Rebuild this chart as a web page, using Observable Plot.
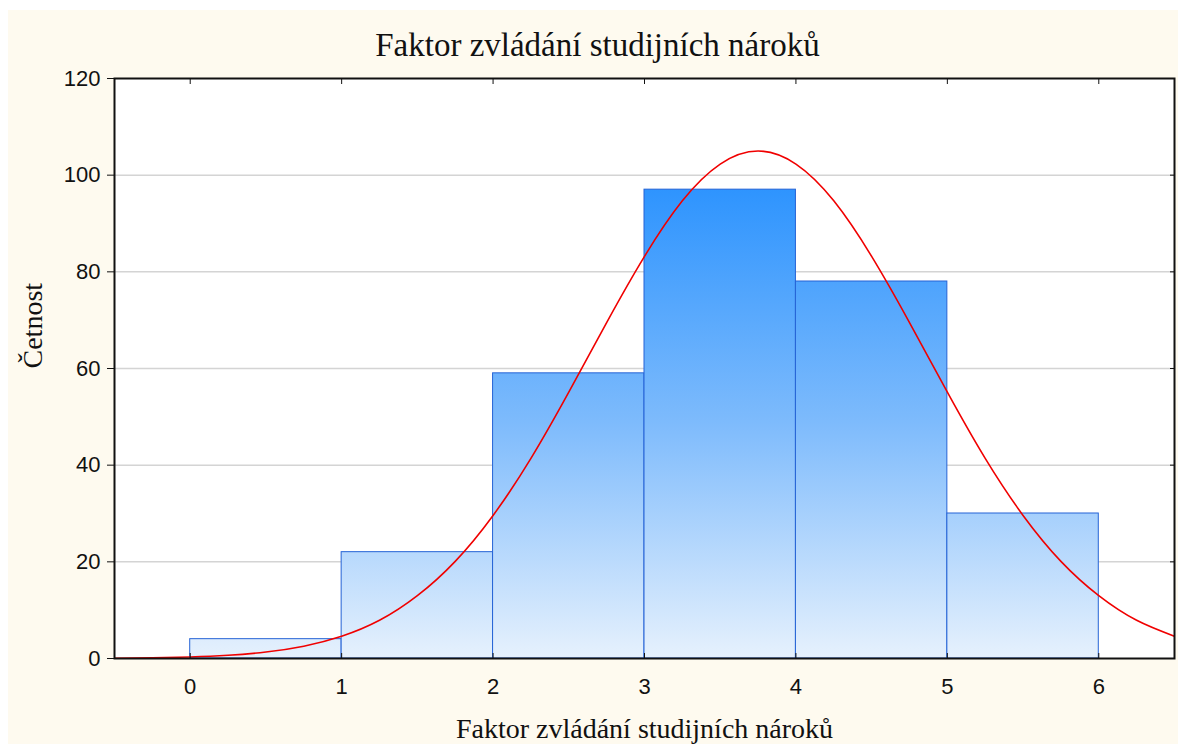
<!DOCTYPE html>
<html>
<head>
<meta charset="utf-8">
<script src="https://cdn.jsdelivr.net/npm/d3@7"></script>
<script src="https://cdn.jsdelivr.net/npm/@observablehq/plot@0.6"></script>
<style>
  html, body { margin: 0; padding: 0; background: #ffffff; overflow: hidden; }
  #wrap { padding: 10px 0 0 8px; width: 1170px; height: 734px; }
  #wrap svg { background: #fefaef; display: block; }
</style>
</head>
<body>
<div id="wrap"></div>
<script>
// ---- data ----
const title = "Faktor zvládání studijních nároků";
const xLabel = "Faktor zvládání studijních nároků";
const yLabel = "Četnost";

const binStart = [0, 1, 2, 3, 4, 5];
const binEnd   = [1, 2, 3, 4, 5, 6];
const counts   = [4, 22, 59, 97, 78, 30];

const xTicks = [0, 1, 2, 3, 4, 5, 6];
const yTicks = [0, 20, 40, 60, 80, 100, 120];
const yGrid  = [20, 40, 60, 80, 100];

// fitted normal curve
const curveX = [-0.5, -0.25, 0, 0.25, 0.5, 0.75, 1, 1.25, 1.5, 1.75, 2, 2.25, 2.5, 2.75, 3, 3.25, 3.5, 3.75, 4, 4.25, 4.5, 4.75, 5, 5.25, 5.5, 5.75, 6, 6.25, 6.5];
const curveY = [0.06, 0.14, 0.32, 0.67, 1.34, 2.55, 4.6, 7.9, 13.0, 20.1, 29.6, 41.4, 55.1, 69.5, 83.2, 94.7, 102.3, 105, 102.3, 94.7, 83.2, 69.5, 55.1, 41.4, 29.6, 20.1, 13.0, 7.9, 4.6];

const bins = binStart.map((s, i) => ({x0: s, x1: binEnd[i], count: counts[i]}));
const curve = curveX.map((x, i) => ({x, y: curveY[i]}));
const maxCount = d3.max(counts);

function gradientDefs(index, scales) {
  const ns = "http://www.w3.org/2000/svg";
  const defs = document.createElementNS(ns, "defs");
  const lg = document.createElementNS(ns, "linearGradient");
  lg.setAttribute("id", "barGrad");
  lg.setAttribute("gradientUnits", "userSpaceOnUse");
  lg.setAttribute("x1", 0); lg.setAttribute("x2", 0);
  lg.setAttribute("y1", scales.y(maxCount));
  lg.setAttribute("y2", scales.y(0));
  [["0", "#2e94fe"], ["0.5", "#7ebbfc"], ["1", "#e6f1fd"]].forEach(([o, c]) => {
    const st = document.createElementNS(ns, "stop");
    st.setAttribute("offset", o);
    st.setAttribute("stop-color", c);
    lg.appendChild(st);
  });
  defs.appendChild(lg);
  return defs;
}

const serif = "'Liberation Serif', 'Times New Roman', serif";

const plot = Plot.plot({
  width: 1170,
  height: 734,
  marginLeft: 106,
  marginRight: 4,
  marginTop: 68,
  marginBottom: 86,
  style: { fontFamily: "'Liberation Sans', Arial, sans-serif", fontSize: "22px", color: "#111", background: "#fefaef" },
  x: { domain: [-0.5, 6.5] },
  y: { domain: [0, 120] },
  marks: [
    gradientDefs,
    Plot.frame({ fill: "#ffffff", stroke: null }),
    Plot.gridY(yGrid, { stroke: "#d4d4d4", strokeOpacity: 1, strokeWidth: 1.5 }),
    Plot.rectY(bins, { x1: "x0", x2: "x1", y: "count", fill: "url(#barGrad)", stroke: "#2563d6", strokeWidth: 1 }),
    Plot.line(curve, { x: "x", y: "y", stroke: "#f00000", strokeWidth: 1.6, curve: "natural", clip: "frame" }),
    Plot.axisY({ anchor: "left", ticks: yTicks, tickSize: 7, tickPadding: 7, label: null, fontSize: 22, tickFormat: d3.format("d") }),
    Plot.axisY({ anchor: "right", ticks: yTicks, tickSize: 5, dx: -5, tickFormat: () => "", label: null }),
    Plot.axisX({ anchor: "top", ticks: xTicks, tickSize: 5, dy: 5, tickFormat: () => "", label: null }),
    Plot.axisX({ anchor: "bottom", ticks: xTicks, tickSize: 5, dy: -5, tickFormat: () => "", label: null }),
    Plot.axisX({ anchor: "bottom", ticks: xTicks, tickSize: 0, tickPadding: 20, label: null, fontSize: 22, tickFormat: d3.format("d") }),
    Plot.frame({ stroke: "#111", strokeWidth: 2 }),
    Plot.text([title], { frameAnchor: "top", dx: -47, dy: -23, lineAnchor: "bottom", fontFamily: serif, fontSize: 33, fill: "#111" }),
    Plot.text([xLabel], { frameAnchor: "bottom", dy: 79, lineAnchor: "bottom", fontFamily: serif, fontSize: 28, fill: "#111" }),
    Plot.text([yLabel], { frameAnchor: "left", dx: -81, rotate: -90, fontFamily: serif, fontSize: 28, fill: "#111" })
  ]
});
document.getElementById("wrap").appendChild(plot);
</script>
</body>
</html>
